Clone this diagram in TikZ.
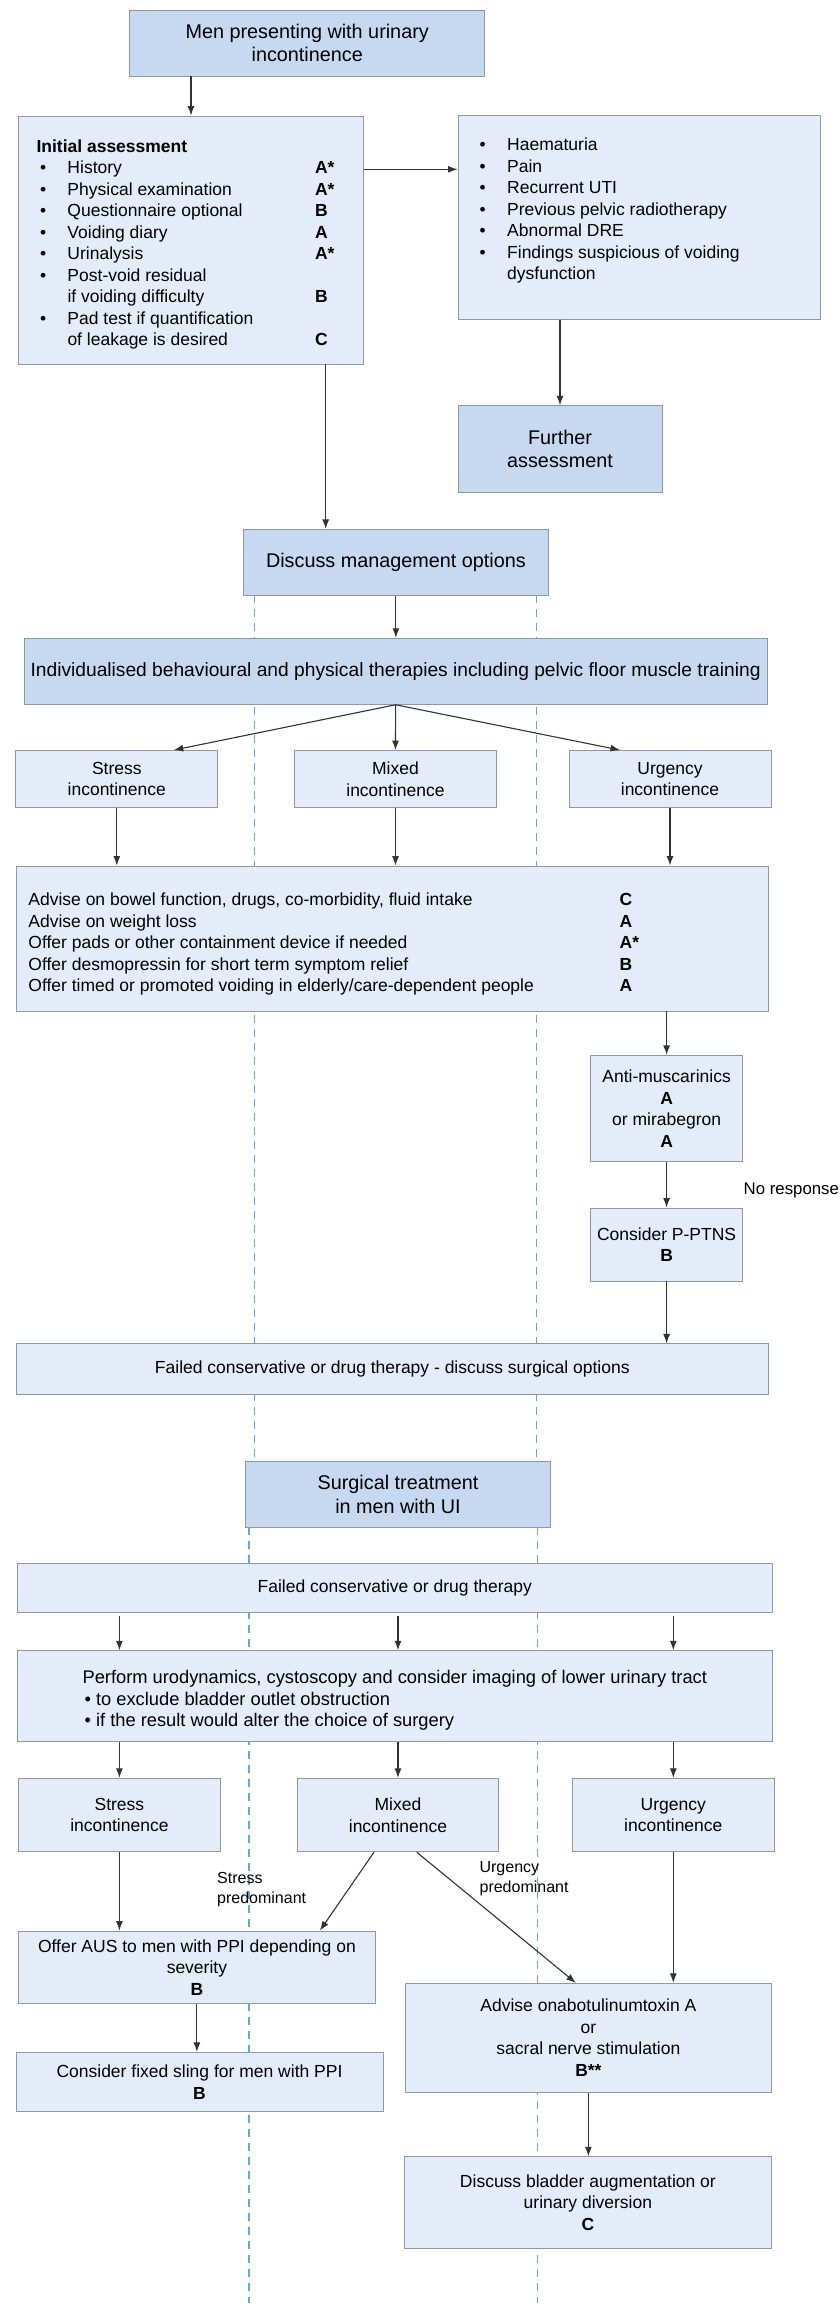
\documentclass[tikz,border=0pt]{standalone}
\usepackage{fontspec}
\setmainfont{Liberation Sans}
\usetikzlibrary{arrows.meta,positioning,calc}
\definecolor{boxedge}{HTML}{8E98A3}
\definecolor{deep}{HTML}{C6D9F1}
\definecolor{pale}{HTML}{E3ECF8}
\definecolor{guideblue}{HTML}{62A8E0}
\definecolor{ink}{HTML}{333333}
\newcommand\blt{\hspace*{3.5pt}\textbullet}
\tikzset{listbox/.style={draw=boxedge,fill=pale,line width=0.9pt,inner sep=0pt,font=\fontsize{17.5}{21.5}\selectfont}, infobox/.style={listbox,align=center}, headbox/.style={draw=boxedge,fill=deep,line width=0.9pt,inner sep=0pt,align=center,font=\fontsize{19.8}{23.5}\selectfont}, flow/.style={-{Latex[length=9.5pt,width=7pt]},line width=1.1pt,draw=ink}, note/.style={font=\fontsize{16}{19.3}\selectfont,align=left,inner sep=0pt,anchor=west}, guide/.style={draw=guideblue,line width=1.2pt,dash pattern=on 8pt off 6pt}}

\begin{document}
\begin{tikzpicture}[x=1pt,y=-1pt]
\useasboundingbox[fill=white] (0,0) rectangle (840,2307);
% dashed guides behind the boxes
\draw[guide] (254.4,595) -- (254.4,1462);
\draw[guide] (536.7,595) -- (536.7,1462);
\draw[guide] (249,1527) -- (249,2303);
\draw[guide] (537.8,1527) -- (537.8,2303);

% assessment
\node[headbox,minimum width=355pt,minimum height=66pt] (men) at (307.2,43) {Men presenting with urinary\\incontinence};
\node[listbox,minimum width=344.5pt,minimum height=248pt] (init) at (191,240) {\begin{tabular}{@{}p{31pt}@{}p{247.5pt}@{}p{30.5pt}@{}}
\noalign{\vskip 9pt}
\multicolumn{3}{@{}l@{}}{\bfseries Initial assessment}\\
\blt & History & \bfseries A*\\
\blt & Physical examination & \bfseries A*\\
\blt & Questionnaire optional & \bfseries B\\
\blt & Voiding diary & \bfseries A\\
\blt & Urinalysis & \bfseries A*\\
\blt & Post-void residual & \\
 & if voiding difficulty & \bfseries B\\
\blt & Pad test if quantification & \\
 & of leakage is desired & \bfseries C
\end{tabular}};
\node[listbox,minimum width=362.6pt,minimum height=203.7pt] (flags) at (639.3,217.2) {\begin{tabular}{@{}p{27.7pt}@{}p{291.9pt}@{}}
\textbullet & Haematuria\\
\textbullet & Pain\\
\textbullet & Recurrent UTI\\
\textbullet & Previous pelvic radiotherapy\\
\textbullet & Abnormal DRE\\
\textbullet & Findings suspicious of voiding\\
 & dysfunction\\[12.8pt]
\end{tabular}};
\node[headbox,minimum width=204pt,minimum height=86.6pt] (further) at (560,449) {Further\\assessment};
\node[headbox,minimum width=305.3pt,minimum height=65.7pt] (discuss) at (395.9,562.2) {Discuss management options};
\coordinate (tie) at (0,169.3);
\coordinate (drop) at (325.7,0);
\draw[flow] (init.north |- men.south) -- (init.north);
\draw[flow] (init.east |- tie) -- (flags.west |- tie);
\draw[flow] (further.north |- flags.south) -- (further.north);
\draw[flow] (init.south -| drop) -- (discuss.north -| drop);

% conservative management
\node[headbox,minimum width=742.9pt,minimum height=66pt,font=\fontsize{19.2}{23}\selectfont] (indiv) at (395.6,671.3) {Individualised behavioural and physical therapies including pelvic floor muscle training};
\node[infobox,minimum width=202pt,minimum height=57pt] (stress1) at (116.8,779) {Stress\\incontinence};
\node[infobox,minimum width=202pt,minimum height=57pt] (mixed1) at (395.5,779) {Mixed\\incontinence};
\node[infobox,minimum width=202pt,minimum height=57pt] (urg1) at (670,779) {Urgency\\incontinence};
\node[listbox,minimum width=752.6pt,minimum height=145pt] (advise) at (392.3,938.5) {\begin{tabular}{@{}p{591.3pt}@{}p{136.5pt}@{}}
\noalign{\vskip 11.4pt}
Advise on bowel function, drugs, co-morbidity, fluid intake & \bfseries C\\
Advise on weight loss & \bfseries A\\
Offer pads or other containment device if needed & \bfseries A*\\
Offer desmopressin for short term symptom relief & \bfseries B\\
Offer timed or promoted voiding in elderly/care-dependent people & \bfseries A
\end{tabular}};
\node[infobox,minimum width=152.6pt,minimum height=106.6pt] (anti) at (666.6,1108.6) {Anti-muscarinics\\\textbf{A}\\or mirabegron\\\textbf{A}};
\node[infobox,minimum width=152.6pt,minimum height=73pt] (ptns) at (666.6,1244.5) {Consider P-PTNS\\\textbf{B}};
\node[note,font=\fontsize{16.8}{20}\selectfont] (noresp) at (743.5,1190.7) {No response};
\node[infobox,minimum width=752.6pt,minimum height=50.3pt] (failed1) at (392.3,1369) {Failed conservative or drug therapy - discuss surgical options};
\draw[flow] (discuss.south) -- (indiv.north -| discuss.south);
\draw[flow] (indiv.south) -- ([xshift=57pt]stress1.north);
\draw[flow] (indiv.south) -- (mixed1.north);
\draw[flow] (indiv.south) -- ([xshift=-50pt]urg1.north);
\draw[flow] (stress1.south) -- (advise.north -| stress1.south);
\draw[flow] (mixed1.south) -- (advise.north -| mixed1.south);
\draw[flow] (urg1.south) -- (advise.north -| urg1.south);
\draw[flow] (anti.north |- advise.south) -- (anti.north);
\draw[flow] (anti.south) -- (ptns.north);
\draw[flow] (ptns.south) -- (failed1.north -| ptns.south);

% surgical treatment
\node[headbox,minimum width=305.3pt,minimum height=65.6pt] (surgical) at (398,1494.5) {Surgical treatment\\in men with UI};
\node[infobox,minimum width=755.3pt,minimum height=49.4pt] (failed2) at (394.8,1588) {Failed conservative or drug therapy};
\node[listbox,minimum width=755.3pt,minimum height=91pt,font=\fontsize{18.3}{21.7}\selectfont] (perform) at (394.8,1696.2) {\begin{tabular}{@{}l@{}}
\noalign{\vskip 9.2pt}
Perform urodynamics, cystoscopy and consider imaging of lower urinary tract\\
\hspace*{2pt}\textbullet\ to exclude bladder outlet obstruction\\
\hspace*{2pt}\textbullet\ if the result would alter the choice of surgery
\end{tabular}};
\node[infobox,minimum width=201.4pt,minimum height=73.4pt] (stress2) at (119.4,1815) {Stress\\incontinence};
\node[infobox,minimum width=201.4pt,minimum height=73.4pt] (mixed2) at (398,1815) {Mixed\\incontinence};
\node[infobox,minimum width=201.4pt,minimum height=73.4pt] (urg2) at (673.3,1815) {Urgency\\incontinence};
\node[infobox,minimum width=356.3pt,minimum height=72.3pt] (aus) at (196.9,1967.2) {Offer AUS to men with PPI depending on\\severity\\\textbf{B}};
\node[infobox,minimum width=367pt,minimum height=59.4pt] (sling) at (199.5,2082) {Consider fixed sling for men with PPI\\\textbf{B}};
\node[infobox,minimum width=365.8pt,minimum height=109pt] (onabot) at (588.4,2037.8) {Advise onabotulinumtoxin A\\or\\sacral nerve stimulation\\\textbf{B**}};
\node[infobox,minimum width=366.9pt,minimum height=91.6pt] (bladder) at (587.9,2202.5) {Discuss bladder augmentation or\\urinary diversion\\\textbf{C}};
\node[note] (stresspre) at (217,1889.6) {Stress\\predominant};
\node[note] (urgpre) at (479.4,1878.7) {Urgency\\predominant};
\draw[flow,shorten <=3pt] (failed2.south -| stress2.north) -- (perform.north -| stress2.north);
\draw[flow,shorten <=3pt] (failed2.south -| mixed2.north) -- (perform.north -| mixed2.north);
\draw[flow,shorten <=3pt] (failed2.south -| urg2.north) -- (perform.north -| urg2.north);
\draw[flow] (perform.south -| stress2.north) -- (stress2.north);
\draw[flow] (perform.south -| mixed2.north) -- (mixed2.north);
\draw[flow] (perform.south -| urg2.north) -- (urg2.north);
\draw[flow] (stress2.south) -- (aus.north -| stress2.south);
\draw[flow] ([xshift=-24pt]mixed2.south) -- ([xshift=123pt]aus.north);
\draw[flow] ([xshift=18.7pt]mixed2.south) -- ([xshift=-12.6pt]onabot.north);
\draw[flow] (urg2.south) -- (onabot.north -| urg2.south);
\draw[flow] (aus.south) -- (sling.north -| aus.south);
\draw[flow] (onabot.south) -- (bladder.north -| onabot.south);
\end{tikzpicture}
\end{document}
